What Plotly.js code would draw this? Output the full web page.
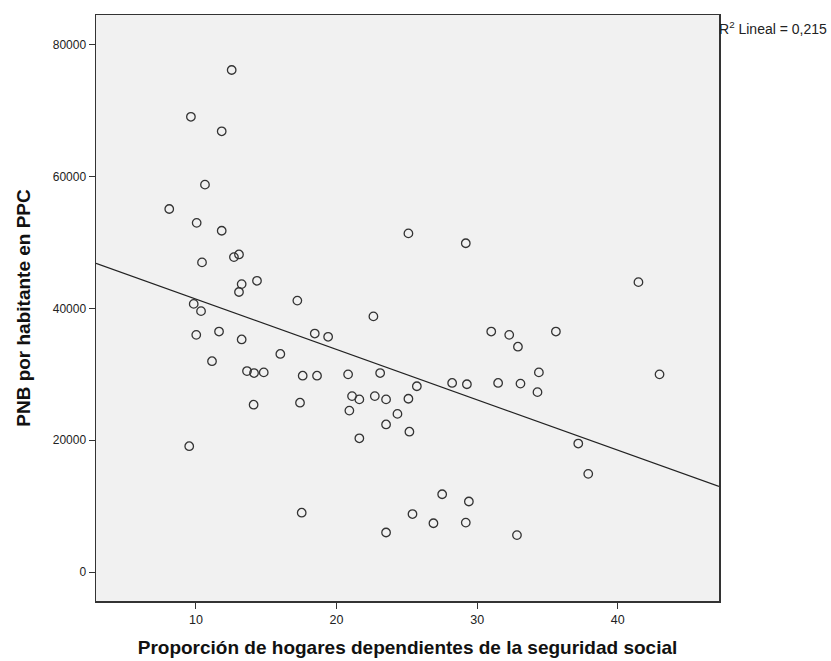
<!DOCTYPE html>
<html>
<head>
<meta charset="utf-8">
<script src="https://cdn.plot.ly/plotly-3.0.1.min.js"></script>
<style>html,body{margin:0;padding:0;background:#fff;}#chart{width:831px;height:661px;}</style>
</head>
<body>
<div id="chart"></div>
<script>
// Proporción de hogares dependientes de la seguridad social
const proporcion = [12.54, 9.64, 11.83, 10.64, 8.10, 10.05, 11.83, 10.43, 12.70, 13.06,
  13.25, 13.06, 14.34, 17.21, 9.84, 10.36, 10.02, 11.64, 13.25, 18.45,
  19.40, 11.14, 16.00, 13.63, 14.13, 14.82, 17.59, 18.61, 14.10, 17.40,
  9.52, 17.52, 25.11, 29.19, 22.62, 31.00, 32.28, 32.90, 35.60, 20.82,
  23.10, 25.71, 28.22, 29.27, 31.49, 33.08, 34.39, 34.29, 21.10, 21.62,
  22.72, 23.52, 25.11, 20.91, 24.33, 23.52, 21.62, 25.18, 37.19, 27.51,
  29.41, 25.40, 26.89, 29.19, 23.52, 32.83, 41.47, 42.97, 37.90];
// PNB por habitante en PPC
const pnb = [76200, 69100, 66900, 58800, 55100, 53000, 51800, 47000, 47800, 48200,
  43700, 42500, 44200, 41200, 40700, 39600, 36000, 36500, 35300, 36200,
  35700, 32000, 33100, 30500, 30200, 30300, 29800, 29800, 25400, 25700,
  19100, 9000, 51400, 49900, 38800, 36500, 36000, 34200, 36500, 30000,
  30200, 28200, 28700, 28500, 28700, 28600, 30300, 27300, 26700, 26200,
  26700, 26200, 26300, 24500, 24000, 22400, 20300, 21300, 19500, 11800,
  10700, 8800, 7400, 7500, 6000, 5600, 44000, 30000, 14900];

const xTicks = [10, 20, 30, 40];
const yTicks = [0, 20000, 40000, 60000, 80000];
const xRange = [2.89, 47.2];
const yRange = [-4400, 84550];
const r2Label = 'R<sup>2</sup> Lineal = 0,215';

// Ordinary least squares fit
const n = proporcion.length;
const mx = proporcion.reduce((a, b) => a + b, 0) / n;
const my = pnb.reduce((a, b) => a + b, 0) / n;
let sxy = 0, sxx = 0;
for (let i = 0; i < n; i++) { sxy += (proporcion[i] - mx) * (pnb[i] - my); sxx += (proporcion[i] - mx) ** 2; }
const slope = sxy / sxx;
const intercept = my - slope * mx;
const fitX = xRange;
const fitY = fitX.map(v => intercept + slope * v);

const font = "'Liberation Sans', Arial, sans-serif";

Plotly.newPlot('chart', [
  {
    x: fitX, y: fitY, type: 'scatter', mode: 'lines',
    line: {color: '#222', width: 1.2}, hoverinfo: 'skip', cliponaxis: true
  },
  {
    x: proporcion, y: pnb, type: 'scatter', mode: 'markers',
    marker: {symbol: 'circle-open', size: 8.5, color: '#333', line: {width: 1.3, color: '#333'}}
  }
], {
  width: 831, height: 661,
  margin: {l: 96, r: 112, t: 15, b: 60},
  paper_bgcolor: '#ffffff',
  plot_bgcolor: '#f1f1f1',
  showlegend: false,
  font: {family: font, size: 12, color: '#222'},
  xaxis: {
    range: xRange, tickvals: xTicks, ticktext: xTicks.map(String),
    showgrid: false, zeroline: false,
    showline: true, linecolor: '#333', linewidth: 1.5, mirror: true,
    ticks: 'outside', ticklen: 6, tickcolor: '#333', tickwidth: 1,
    tickfont: {family: font, size: 12.5, color: '#222'},
    title: {text: '<b>Proporción de hogares dependientes de la seguridad social</b>',
            font: {family: font, size: 19, color: '#111'}, standoff: 15}
  },
  yaxis: {
    range: yRange, tickvals: yTicks, ticktext: yTicks.map(String),
    showgrid: false, zeroline: false,
    showline: true, linecolor: '#333', linewidth: 1.5, mirror: true,
    ticks: 'outside', ticklen: 6, tickcolor: '#333', tickwidth: 1,
    tickfont: {family: font, size: 12, color: '#222'},
    title: {text: '<b>PNB por habitante en PPC</b>',
            font: {family: font, size: 19, color: '#111'}, standoff: 17}
  },
  annotations: [{
    xref: 'paper', yref: 'paper', x: 1, y: 0.978, xanchor: 'left', yanchor: 'middle',
    text: r2Label, showarrow: false, xshift: -2,
    font: {family: font, size: 14, color: '#222'}
  }]
}, {staticPlot: true});
</script>
</body>
</html>
